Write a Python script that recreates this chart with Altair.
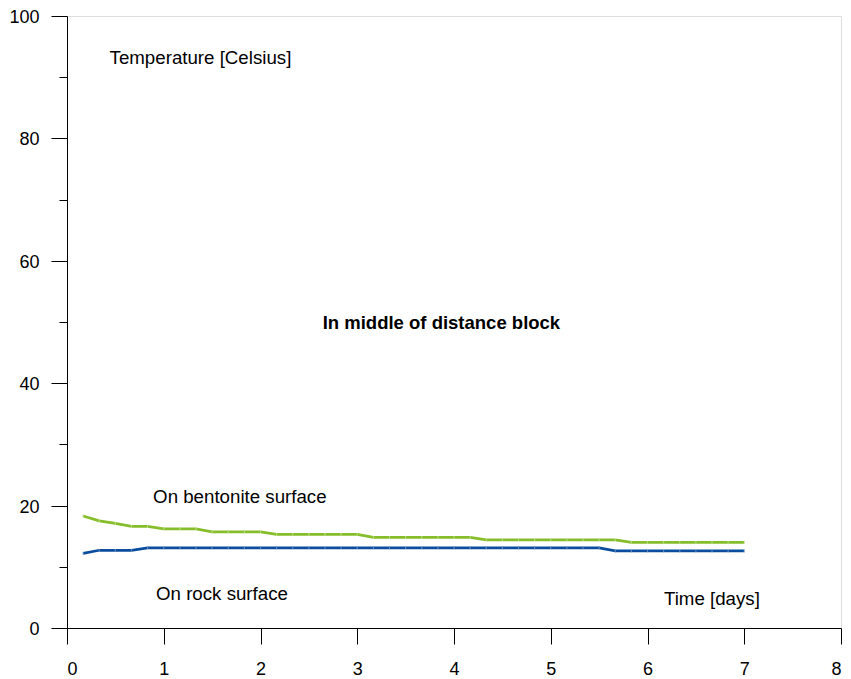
import altair as alt
import pandas as pd

# Sampling every 4 hours over the first week (days)
time_days = [i / 6 for i in range(1, 43)]

# Temperature on the bentonite surface [Celsius]
bentonite = [18.3, 17.5, 17.1, 16.6, 16.6, 16.2, 16.2, 16.2, 15.7, 15.7,
             15.7, 15.7, 15.3, 15.3, 15.3, 15.3, 15.3, 15.3, 14.8, 14.8,
             14.8, 14.8, 14.8, 14.8, 14.8, 14.4, 14.4, 14.4, 14.4, 14.4,
             14.4, 14.4, 14.4, 14.4, 14.0, 14.0, 14.0, 14.0, 14.0, 14.0,
             14.0, 14.0]

# Temperature on the rock surface [Celsius]
rock = [12.2, 12.7, 12.7, 12.7, 13.1, 13.1, 13.1, 13.1, 13.1, 13.1,
        13.1, 13.1, 13.1, 13.1, 13.1, 13.1, 13.1, 13.1, 13.1, 13.1,
        13.1, 13.1, 13.1, 13.1, 13.1, 13.1, 13.1, 13.1, 13.1, 13.1,
        13.1, 13.1, 13.1, 12.6, 12.6, 12.6, 12.6, 12.6, 12.6, 12.6,
        12.6, 12.6]

series_names = ["On bentonite surface", "On rock surface"]
line_colors = ["#86bd2a", "#0a4d9e"]
marker_colors = ["#c9e39a", "#7a9ccc"]

# Free-standing labels: text, x [days], y [Celsius], weight
label_texts = ["Temperature [Celsius]", "In middle of distance block",
               "On bentonite surface", "On rock surface", "Time [days]"]
label_x = [0.44, 3.87, 0.89, 0.92, 6.17]
label_y = [93.2, 49.9, 21.4, 5.6, 4.7]
label_weight = ["normal", "bold", "normal", "normal", "normal"]

FONT = "Liberation Sans"

df = pd.DataFrame({
    "t": time_days * 2,
    "temp": bentonite + rock,
    "series": [series_names[0]] * len(time_days) + [series_names[1]] * len(time_days),
})

labels = pd.DataFrame({
    "text": label_texts, "x": label_x, "y": label_y, "weight": label_weight,
})

x_scale = alt.Scale(domain=[0, 8], nice=False, zero=False)
y_scale = alt.Scale(domain=[0, 100], nice=False)

x_axis = alt.Axis(
    title=None, values=list(range(0, 9)), format="d", grid=False, tickSize=16,
    tickColor="black", domainColor="black", labelColor="black",
    labelFont=FONT, labelFontSize=18, labelPadding=16, tickWidth=1,
    domainWidth=1,
)
y_axis = alt.Axis(
    title=None, values=list(range(0, 101, 10)), grid=False,
    tickSize=alt.condition("datum.value % 20 === 0", alt.value(16), alt.value(8)),
    labelExpr="datum.value % 20 === 0 ? datum.label : ''",
    tickColor="black", domainColor="black", labelColor="black",
    labelFont=FONT, labelFontSize=18, labelPadding=12, labelOffset=1.5,
    tickWidth=1, domainWidth=1,
)

color_scale = alt.Scale(domain=series_names, range=line_colors)
marker_scale = alt.Scale(domain=series_names, range=marker_colors)

lines = alt.Chart(df).mark_line(strokeWidth=2.7).encode(
    x=alt.X("t:Q", scale=x_scale, axis=x_axis),
    y=alt.Y("temp:Q", scale=y_scale, axis=y_axis),
    color=alt.Color("series:N", scale=color_scale, legend=None),
)

markers = alt.Chart(df).mark_tick(orient="vertical", size=3, thickness=1.2).encode(
    x="t:Q",
    y="temp:Q",
    color=alt.Color("series:N", scale=marker_scale, legend=None),
)

text_normal = alt.Chart(labels).transform_filter(
    "datum.weight === 'normal'"
).mark_text(font=FONT, fontSize=18.7, align="left", baseline="middle",
            color="black").encode(
    x="x:Q", y="y:Q", text="text:N",
)

text_bold = alt.Chart(labels).transform_filter(
    "datum.weight === 'bold'"
).mark_text(font=FONT, fontSize=18.5, fontWeight="bold", align="center",
            baseline="middle", color="black").encode(
    x="x:Q", y="y:Q", text="text:N",
)

chart = alt.layer(lines, markers, text_normal, text_bold).resolve_scale(
    color="independent"
).properties(
    width=774, height=612,
    autosize=alt.AutoSizeParams(type="none"),
    padding={"left": 67, "top": 16, "right": 10, "bottom": 51},
).configure_view(
    stroke="black", strokeWidth=1,
).configure(background="white")

chart.save("out.html", embed_options={"renderer": "svg", "actions": False})
